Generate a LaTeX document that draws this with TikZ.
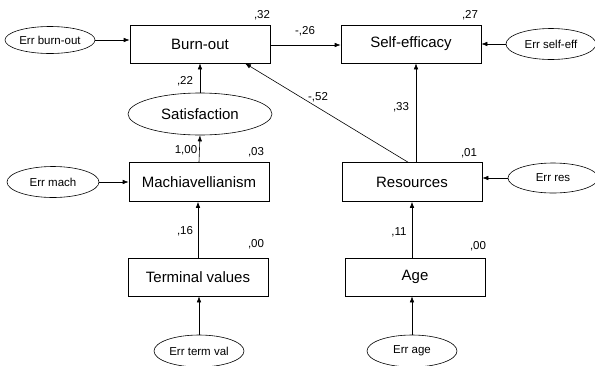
\documentclass[tikz,border=0pt]{standalone}
\usepackage{fontspec}
\setmainfont{Liberation Sans}
\usetikzlibrary{shapes.geometric,arrows.meta}

\begin{document}
\begin{tikzpicture}[x=1pt, y=-1pt, line width=0.6pt,
        var/.style={draw, minimum width=140pt, minimum height=38pt, inner sep=0pt, font=\fontsize{15}{18}\selectfont},
        err/.style={draw, ellipse, minimum width=90pt, minimum height=29pt, inner sep=0pt, font=\fontsize{11.5}{14}\selectfont},
        coef/.style={inner sep=0pt, font=\fontsize{11.5}{14}\selectfont},
        path/.style={-{Latex[length=6pt,width=4.5pt]}}]
                \useasboundingbox (0,0) rectangle (595,365);

                \node[var] (burnout) at (200,44) {Burn-out};
                \node[var] (selfeff) at (411,44) {Self-efficacy};
                \node[err, ellipse, minimum width=144pt, minimum height=42pt, font=\fontsize{15}{18}\selectfont] (satisf) at (200,114) {Satisfaction};
                \node[var, minimum height=39pt] (mach) at (199,182) {Machiavellianism};
                \node[var, minimum height=39pt] (resources) at (412,182) {Resources};
                \node[var] (termval) at (198,277) {Terminal values};
                \node[var] (age) at (415,277) {Age};

                \node[err, minimum height=27pt] (errburnout) at (50,40) {Err burn-out};
                \node[err, minimum height=31pt] (errselfeff) at (551,44) {Err self-eff};
                \node[err, minimum width=92pt, minimum height=31pt] (errmach) at (53,182) {Err mach};
                \node[err, minimum height=30pt] (errres) at (553,178) {Err res};
                \node[err, minimum height=32pt] (errtermval) at (199,351) {Err term val};
                \node[err, minimum height=32pt] (errage) at (412,351) {Err age};

                \draw[path] (errburnout) -- (errburnout -| burnout.west);
                \draw[path] (errselfeff) -- (selfeff.east);
                \draw[path] ([yshift=-1pt]burnout.east) -- ([yshift=-1pt]selfeff.west);
                \draw[path] (satisf.north) -- (burnout.south);
                \draw[path] (mach.north) -- (satisf.south);
                \draw[path] (errmach) -- (mach.west);
                \draw[path] (termval.north) -- (termval.north |- mach.south);
                \draw[path] (errtermval.north) -- (errtermval.north |- termval.south);
                \draw[path] ([xshift=4pt]resources.north) -- ([xshift=4pt]resources.north |- selfeff.south);
                \draw[path] ([xshift=-4pt]resources.north) -- ([xshift=45pt]burnout.south);
                \draw[path] (errres) -- (errres -| resources.east);
                \draw[path] (resources.south |- age.north) -- (resources.south);
                \draw[path] (errage.north) -- (errage.north |- age.south);

                \node[coef] (c32) at (262,15) {,32};
                \node[coef] (c27) at (470,15) {,27};
                \node[coef] (c26) at (305,31) {-,26};
                \node[coef] (c22) at (185,81) {,22};
                \node[coef] (c52) at (318,97) {-,52};
                \node[coef] (c33) at (401,107) {,33};
                \node[coef] (c100) at (186,150) {1,00};
                \node[coef] (c03) at (256,152) {,03};
                \node[coef] (c01) at (469,153) {,01};
                \node[coef] (c16) at (185,231) {,16};
                \node[coef] (c00a) at (256,244) {,00};
                \node[coef] (c11) at (399,232) {,11};
                \node[coef] (c00b) at (478,246) {,00};
            \end{tikzpicture}
\end{document}
